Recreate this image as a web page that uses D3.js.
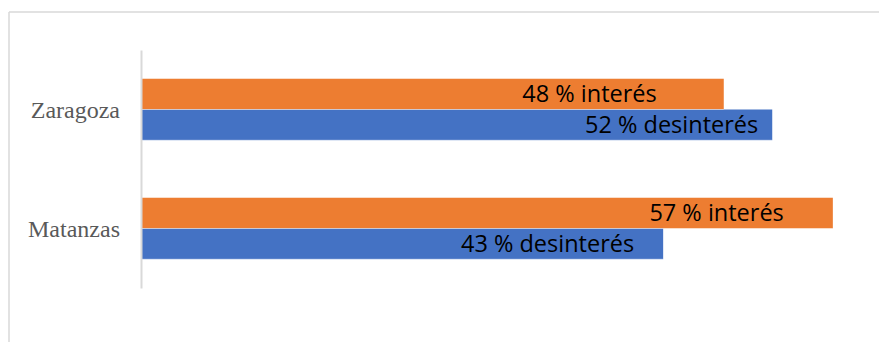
<!DOCTYPE html>
<html>
<head>
<meta charset="utf-8">
<script src="https://cdn.jsdelivr.net/npm/d3@7"></script>
<style>
html,body{margin:0;padding:0;background:#fff;}
svg{display:block;}
</style>
</head>
<body>
<svg id="chart" width="879" height="342"></svg>
<script>
// ---- data ----
const categories = ["Zaragoza", "Matanzas"];
const seriesNames = ["interés", "desinterés"];
const interes = [48, 57];
const desinteres = [52, 43];

const colors = {"interés": "#ED7D31", "desinterés": "#4472C4"};
// per-label manual text end offsets (px from bar end), as in the original
const labelOffsets = {"Zaragoza": {"interés": 67, "desinterés": 14}, "Matanzas": {"interés": 49, "desinterés": 29}};

const rows = categories.map((c, i) => ({
  category: c,
  values: [
    {series: "interés", value: interes[i]},
    {series: "desinterés", value: desinteres[i]}
  ]
}));

const svg = d3.select("#chart");

// outer frame (left + top)
svg.append("line").attr("x1", 9).attr("x2", 9).attr("y1", 12).attr("y2", 342)
  .attr("stroke", "#d9d9d9").attr("stroke-width", 1.5);
svg.append("line").attr("x1", 9).attr("x2", 879).attr("y1", 12).attr("y2", 12)
  .attr("stroke", "#d9d9d9").attr("stroke-width", 1.5);

const x = d3.scaleLinear().domain([0, 100]).range([142, 142 + 1212]);
const y = d3.scaleBand().domain(categories).range([50, 288])
  .paddingInner(0.483).paddingOuter(0.2415);
const ySub = d3.scaleBand().domain(seriesNames).range([0, y.bandwidth()]);

// bars
const g = svg.selectAll("g.cat").data(rows).join("g")
  .attr("class", "cat")
  .attr("transform", d => `translate(0,${y(d.category)})`);

g.selectAll("rect").data(d => d.values).join("rect")
  .attr("x", x(0))
  .attr("y", d => ySub(d.series))
  .attr("width", d => x(d.value) - x(0))
  .attr("height", ySub.bandwidth())
  .attr("fill", d => colors[d.series]);

// thin white separators
g.selectAll("line.sep").data(d => d.values).join("line")
  .attr("class", "sep")
  .attr("x1", x(0)).attr("x2", d => x(d.value))
  .attr("y1", d => ySub(d.series) + ySub.bandwidth())
  .attr("y2", d => ySub(d.series) + ySub.bandwidth())
  .attr("stroke", "#ffffff").attr("stroke-opacity", 0.6).attr("stroke-width", 0.8);

// value labels
g.selectAll("text.val").data(d => d.values.map(v => ({...v, category: d.category}))).join("text")
  .attr("class", "val")
  .attr("x", d => x(d.value) - labelOffsets[d.category][d.series])
  .attr("y", d => ySub(d.series) + ySub.bandwidth() / 2 + 8)
  .attr("text-anchor", "end")
  .attr("font-family", "'Open Sans', sans-serif")
  .attr("font-size", 23.5)
  .attr("fill", "#000")
  .text(d => `${d.value} % ${d.series}`);

// y axis (category axis)
const yAxis = d3.axisLeft(y).tickSize(0).tickPadding(21);
const ax = svg.append("g").attr("transform", `translate(141,0)`).call(yAxis);
ax.select(".domain").attr("stroke", "#d9d9d9").attr("stroke-width", 2);
ax.selectAll(".tick text")
  .attr("font-family", "'Liberation Serif', 'Times New Roman', serif")
  .attr("font-size", 24)
  .attr("fill", "#595959")
  .attr("dy", null)
  .attr("y", 8);
</script>
</body>
</html>
